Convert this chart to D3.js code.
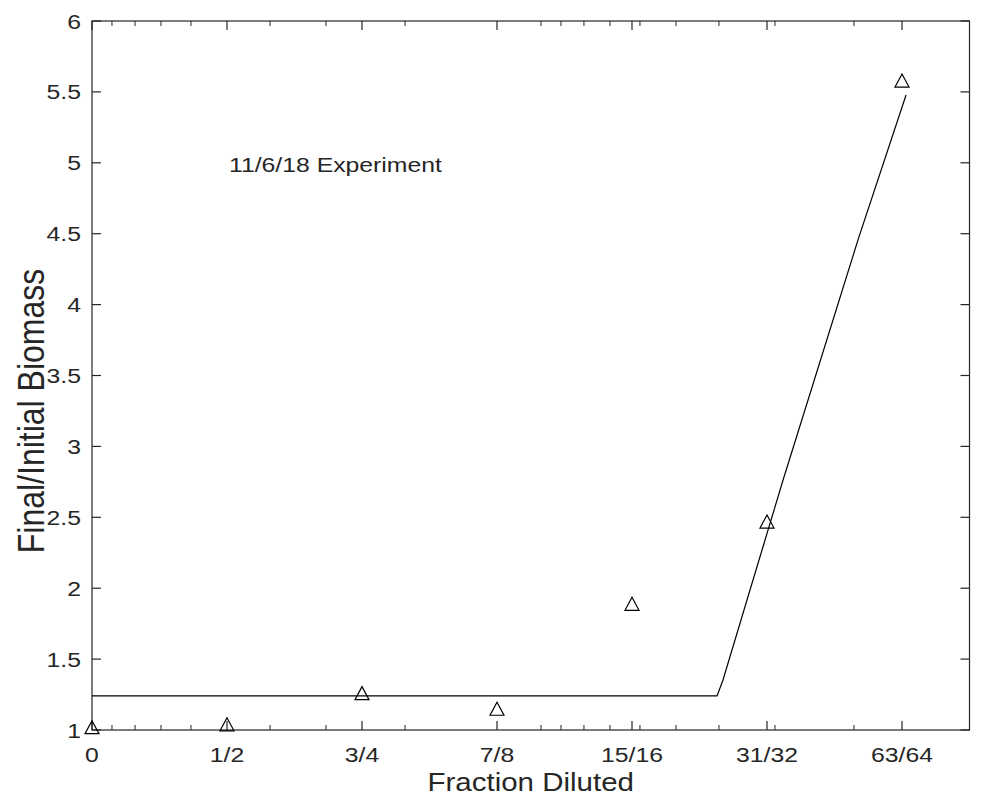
<!DOCTYPE html>
<html>
<head>
<meta charset="utf-8">
<script src="https://cdn.jsdelivr.net/npm/d3@7"></script>
<style>
html,body{margin:0;padding:0;background:#fff;}
svg{display:block;}
text{font-family:"Liberation Sans",Arial,Helvetica,sans-serif;fill:#262626;}
</style>
</head>
<body>
<svg id="chart" width="990" height="798"></svg>
<script>
// ---- data ----
const xLabels = ["0","1/2","3/4","7/8","15/16","31/32","63/64"];
const xIndex = [0,1,2,3,4,5,6];
const biomass = [1.02, 1.04, 1.26, 1.15, 1.89, 2.47, 5.58];
const fitX = [0, 4.63, 4.674, 5.119, 5.674, 6.03];
const fitY = [1.24, 1.24, 1.353, 2.763, 4.456, 5.478];
const minorTicks = [0.148,0.319,0.511,0.733,1.319,1.733,2.319,3.326,3.474,3.644,3.837,4.059,4.326,4.644,5.059,5.644];
const yTicks = [1,1.5,2,2.5,3,3.5,4,4.5,5,5.5,6];
const xDomain = [0, 6.5];
const yDomain = [1, 6];

const svg = d3.select("#chart");
const L = 92, T = 21, B = 730;
const unit = 135;
const R = L + unit * (xDomain[1] - xDomain[0]);
const sx = 1.18; // horizontal glyph stretch
const x = d3.scaleLinear().domain(xDomain).range([L, R]);
const y = d3.scaleLinear().domain(yDomain).range([B, T]);
const axisColor = "#262626";

// frame
svg.append("rect").attr("x", L).attr("y", T).attr("width", R - L).attr("height", B - T)
  .attr("fill", "none").attr("stroke", axisColor).attr("stroke-width", 1.2);

// x ticks major (bottom & top)
const gx = svg.append("g");
xIndex.forEach(v => {
  gx.append("line").attr("x1", x(v)).attr("x2", x(v)).attr("y1", B).attr("y2", B - 9).attr("stroke", axisColor).attr("stroke-width", 1.2);
  gx.append("line").attr("x1", x(v)).attr("x2", x(v)).attr("y1", T).attr("y2", T + 9).attr("stroke", axisColor).attr("stroke-width", 1.2);
});
minorTicks.forEach(v => {
  gx.append("line").attr("x1", x(v)).attr("x2", x(v)).attr("y1", B).attr("y2", B - 5).attr("stroke", axisColor).attr("stroke-width", 1);
  gx.append("line").attr("x1", x(v)).attr("x2", x(v)).attr("y1", T).attr("y2", T + 5).attr("stroke", axisColor).attr("stroke-width", 1);
});
xIndex.forEach((v, i) => {
  gx.append("text").attr("transform", `translate(${x(v)},${B + 32}) scale(${sx},1)`)
    .attr("text-anchor", "middle").attr("font-size", 21).text(xLabels[i]);
});

// y ticks
const gy = svg.append("g");
yTicks.forEach(v => {
  gy.append("line").attr("x1", L).attr("x2", L + 9).attr("y1", y(v)).attr("y2", y(v)).attr("stroke", axisColor).attr("stroke-width", 1.2);
  gy.append("line").attr("x1", R).attr("x2", R - 9).attr("y1", y(v)).attr("y2", y(v)).attr("stroke", axisColor).attr("stroke-width", 1.2);
  gy.append("text").attr("transform", `translate(${L - 11},${y(v) + 7.5}) scale(${sx},1)`)
    .attr("text-anchor", "end").attr("font-size", 21).text(d3.format("")(v));
});

// axis titles
svg.append("text").attr("transform", `translate(${(L + R) / 2},${791}) scale(${sx},1)`)
  .attr("text-anchor", "middle").attr("font-size", 25).text("Fraction Diluted");
svg.append("text").attr("transform", `translate(${44},${411}) rotate(-90) scale(1,${sx})`)
  .attr("text-anchor", "middle").attr("font-size", 32).text("Final/Initial Biomass");

// annotation
svg.append("text").attr("transform", `translate(${229},${172}) scale(${sx},1)`)
  .attr("font-size", 21).text("11/6/18 Experiment");

// fit line
const line = d3.line().x(d => x(d[0])).y(d => y(d[1]));
svg.append("path").datum(fitX.map((v, i) => [v, fitY[i]]))
  .attr("d", line).attr("fill", "none").attr("stroke", "#000").attr("stroke-width", 1.2);

// markers
const w = 14, h = 13;
const tri = `M0,${-h/2}L${w/2},${h/2}L${-w/2},${h/2}Z`;
svg.append("g").selectAll("path").data(xIndex.map((v, i) => [v, biomass[i]])).join("path")
  .attr("transform", d => `translate(${x(d[0])},${y(d[1])})`)
  .attr("d", tri).attr("fill", "none").attr("stroke", "#000").attr("stroke-width", 1.2);
</script>
</body>
</html>
